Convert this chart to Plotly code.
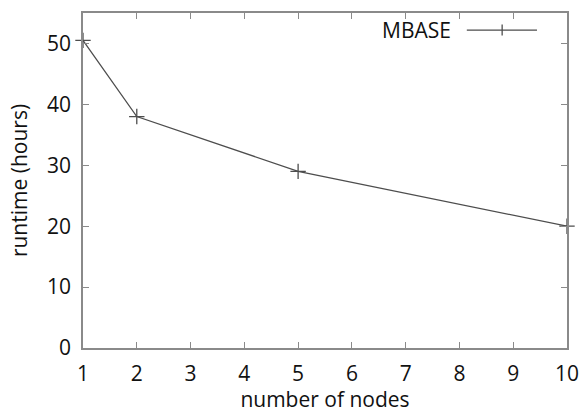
import plotly.graph_objects as go

nodes = [1, 2, 5, 10]
runtime = [50.5, 38, 29, 20]
series_name = "MBASE"
x_ticks = list(range(1, 11))
y_ticks = [0, 10, 20, 30, 40, 50]

line_col = "#4d4d4d"
axis_col = "#8a8a8a"
font = dict(family="Open Sans, Noto Sans, sans-serif", size=21, color="#111111")
title_font = dict(family="Open Sans, Noto Sans, sans-serif", size=21, color="#111111")

fig = go.Figure()
fig.add_trace(go.Scatter(
    x=nodes, y=runtime, mode="lines+markers", name=series_name,
    line=dict(color=line_col, width=1.3),
    marker=dict(symbol="cross-thin-open", size=11, line=dict(color=line_col, width=1.3)),
    showlegend=False, cliponaxis=False,
))

axis_common = dict(
    showline=True, linecolor=axis_col, linewidth=1.5, mirror="ticks",
    ticks="inside", ticklen=6, tickcolor=axis_col, tickwidth=1.2,
    showgrid=False, zeroline=False, tickfont=font, automargin=False,
    ticklabelstandoff=6,
)
fig.update_xaxes(range=[1, 10], tickvals=x_ticks,
                 title=dict(text="number of nodes", font=title_font, standoff=4), **axis_common)
fig.update_yaxes(range=[0, 55], tickvals=y_ticks,
                 title=dict(text="runtime (hours)", font=title_font, standoff=14), **axis_common)

# legend (gnuplot style: text then sample)
fig.add_annotation(xref="paper", yref="paper", x=0.764, y=0.949, text=series_name,
                   showarrow=False, xanchor="right", yanchor="middle", font=font)
fig.add_shape(type="line", xref="paper", yref="paper", x0=0.793, x1=0.938, y0=0.949, y1=0.949,
              line=dict(color=line_col, width=1.3))
fig.add_shape(type="line", xref="paper", yref="paper", x0=0.866, x1=0.866, y0=0.933, y1=0.966,
              line=dict(color=line_col, width=1.3))

fig.update_layout(
    width=584, height=413,
    margin=dict(l=83, r=17, t=13, b=65),
    paper_bgcolor="white", plot_bgcolor="white",
    font=font,
)
fig.write_html("out.html", config={"displayModeBar": False},
               post_script="document.body.style.margin='0';document.body.style.overflow='hidden';")
